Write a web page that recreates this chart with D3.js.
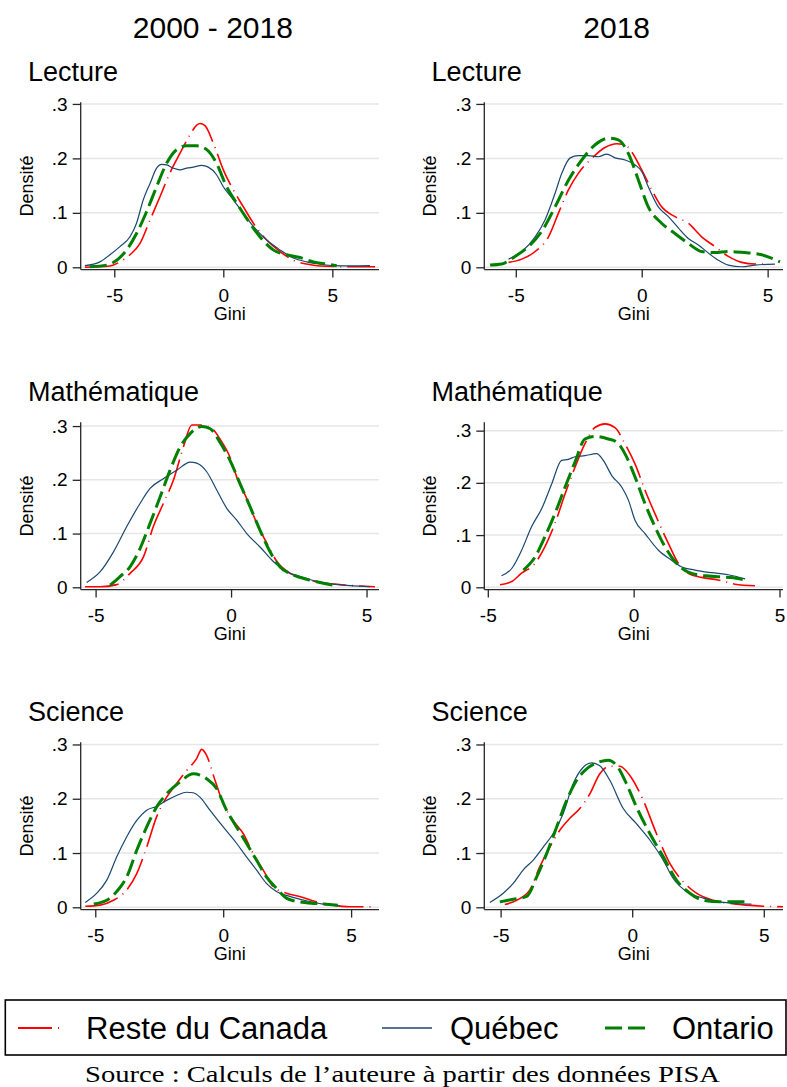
<!DOCTYPE html>
<html><head><meta charset="utf-8">
<script src="https://cdn.jsdelivr.net/npm/d3@7"></script>
<style>body{margin:0;background:#fff}svg{display:block}</style>
</head><body>
<svg id="c" width="787" height="1087"></svg>
<script>
// ---------- labels ----------
const columnHeaders = ["2000 - 2018", "2018"];
const subjectTitles = ["Lecture", "Mathématique", "Science"];
const seriesNames = ["Reste du Canada", "Québec", "Ontario"];
const yTicks = [0, 0.1, 0.2, 0.3];
const yTickLabels = ["0", ".1", ".2", ".3"];
const xTicks = [-5, 0, 5];
const xTickLabels = ["-5", "0", "5"];
const xTitle = "Gini";
const yTitle = "Densité";
const sourceNote = "Source : Calculs de l’auteure à partir des données PISA";

// axis extents per panel (row-major: Lecture 00-18, Lecture 18, Math 00-18, Math 18, Science 00-18, Science 18)
const xDomains = [[-6.54, 7.14], [-6.25, 5.61], [-5.55, 5.46], [-5.12, 5.12], [-5.57, 6.09], [-5.62, 5.73]];
const yMaxes = [0.303, 0.303, 0.307, 0.316, 0.304, 0.304];

// ---------- density data: [gini, density] ----------
// Lecture 2000-2018
const lecAll_reste = [[-6.35,0],[-5.2,0.0025],[-4.74,0.010],[-4.28,0.023],[-3.82,0.044],[-3.36,0.087],[-2.9,0.130],[-2.45,0.173],[-1.99,0.209],[-1.53,0.243],[-1.22,0.261],[-1.07,0.264],[-0.84,0.260],[-0.46,0.228],[0,0.179],[0.46,0.142],[0.92,0.111],[1.38,0.081],[1.99,0.050],[2.6,0.029],[3.21,0.013],[3.82,0.006],[4.43,0.0025],[5.81,0.001],[6.96,0.001]];
const lecAll_quebec = [[-6.35,0.003],[-5.66,0.010],[-5.2,0.023],[-4.74,0.038],[-4.28,0.056],[-3.98,0.081],[-3.67,0.124],[-3.36,0.154],[-3.06,0.182],[-2.83,0.189],[-2.6,0.188],[-2.29,0.182],[-1.99,0.179],[-1.68,0.182],[-1.38,0.184],[-0.99,0.187],[-0.69,0.184],[-0.31,0.170],[0,0.148],[0.46,0.124],[0.92,0.099],[1.38,0.075],[1.99,0.050],[2.6,0.032],[3.21,0.017],[3.82,0.010],[4.43,0.006],[5.05,0.003],[5.81,0.0025],[6.73,0.003]];
const lecAll_ontario = [[-6.12,0.001],[-5.35,0.004],[-4.89,0.013],[-4.43,0.032],[-3.98,0.062],[-3.52,0.102],[-3.06,0.148],[-2.6,0.191],[-2.14,0.216],[-1.68,0.223],[-1.22,0.223],[-0.76,0.216],[-0.31,0.191],[0.15,0.148],[0.61,0.118],[1.07,0.090],[1.68,0.056],[2.29,0.032],[2.91,0.023],[3.52,0.018],[4.13,0.010],[4.74,0.006],[5.2,0.003]];
// Lecture 2018
const lec18_reste = [[-5.29,0.009],[-4.76,0.015],[-4.23,0.029],[-3.7,0.056],[-3.31,0.099],[-2.91,0.142],[-2.51,0.173],[-1.98,0.200],[-1.46,0.220],[-0.99,0.227],[-0.66,0.225],[-0.40,0.212],[0,0.179],[0.40,0.142],[0.79,0.111],[1.32,0.093],[1.85,0.081],[2.38,0.056],[2.91,0.038],[3.44,0.020],[3.97,0.009],[4.5,0.006],[5.03,0.006]];
const lec18_quebec = [[-5.29,0.015],[-4.76,0.029],[-4.23,0.056],[-3.84,0.087],[-3.44,0.136],[-3.17,0.173],[-2.84,0.201],[-2.51,0.205],[-2.12,0.205],[-1.72,0.203],[-1.39,0.208],[-1.06,0.201],[-0.66,0.197],[-0.26,0.188],[0,0.176],[0.26,0.148],[0.66,0.111],[1.06,0.093],[1.46,0.072],[1.85,0.053],[2.25,0.041],[2.65,0.026],[3.04,0.013],[3.44,0.004],[3.97,0.001],[4.5,0.004],[5.29,0.006]];
const lec18_ontario = [[-6.02,0.004],[-5.56,0.006],[-5.03,0.020],[-4.5,0.038],[-3.97,0.066],[-3.44,0.111],[-2.91,0.160],[-2.38,0.197],[-1.85,0.225],[-1.32,0.237],[-0.93,0.234],[-0.53,0.209],[-0.13,0.160],[0.26,0.111],[0.79,0.081],[1.32,0.062],[1.85,0.044],[2.38,0.029],[2.91,0.027],[3.44,0.029],[4.1,0.027],[4.76,0.023],[5.49,0.010]];
// Mathématique 2000-2018
const matAll_reste = [[-5.39,0.001],[-4.83,0.001],[-4.22,0.005],[-3.73,0.026],[-3.23,0.057],[-2.87,0.113],[-2.50,0.156],[-2.13,0.199],[-1.76,0.261],[-1.45,0.302],[-1.14,0.302],[-0.77,0.298],[-0.41,0.276],[-0.04,0.242],[0.21,0.205],[0.58,0.165],[0.95,0.119],[1.32,0.082],[1.69,0.048],[2.18,0.026],[2.67,0.017],[3.28,0.009],[3.78,0.006],[4.51,0.003],[5.31,0.001]];
const matAll_quebec = [[-5.33,0.009],[-4.83,0.029],[-4.34,0.066],[-3.85,0.113],[-3.36,0.156],[-2.99,0.184],[-2.50,0.202],[-2.0,0.218],[-1.51,0.233],[-1.27,0.231],[-0.90,0.215],[-0.53,0.181],[-0.16,0.147],[0.21,0.125],[0.58,0.100],[1.07,0.075],[1.56,0.048],[2.05,0.029],[2.55,0.020],[3.16,0.011],[3.78,0.006],[4.39,0.003],[5.13,0.001]];
const matAll_ontario = [[-4.46,0.004],[-4.1,0.020],[-3.73,0.038],[-3.36,0.072],[-2.99,0.119],[-2.62,0.168],[-2.25,0.218],[-1.88,0.261],[-1.51,0.286],[-1.08,0.299],[-0.77,0.295],[-0.41,0.270],[-0.04,0.236],[0.33,0.193],[0.70,0.150],[1.07,0.106],[1.44,0.066],[1.81,0.038],[2.30,0.023],[2.79,0.015],[3.28,0.009],[3.90,0.003]];
// Mathématique 2018
const mat18_reste = [[-4.58,0.005],[-4.18,0.011],[-3.84,0.027],[-3.38,0.046],[-3.04,0.078],[-2.70,0.122],[-2.35,0.179],[-2.01,0.230],[-1.67,0.275],[-1.33,0.306],[-0.98,0.313],[-0.64,0.306],[-0.30,0.275],[0.05,0.236],[0.39,0.186],[0.73,0.141],[1.19,0.084],[1.53,0.046],[1.87,0.027],[2.33,0.019],[2.90,0.014],[3.47,0.006],[4.16,0.003]];
const mat18_quebec = [[-4.53,0.022],[-4.18,0.036],[-3.84,0.071],[-3.50,0.116],[-3.15,0.151],[-2.81,0.198],[-2.47,0.243],[-2.24,0.245],[-2.01,0.250],[-1.67,0.252],[-1.27,0.256],[-1.04,0.243],[-0.75,0.214],[-0.41,0.192],[-0.18,0.167],[0.05,0.128],[0.39,0.103],[0.85,0.071],[1.30,0.052],[1.65,0.039],[2.10,0.033],[2.67,0.028],[3.25,0.024],[3.82,0.016]];
const mat18_ontario = [[-3.78,0.033],[-3.38,0.058],[-3.04,0.097],[-2.70,0.141],[-2.35,0.192],[-2.01,0.240],[-1.67,0.284],[-1.33,0.289],[-0.87,0.284],[-0.58,0.278],[-0.30,0.256],[0.05,0.211],[0.39,0.160],[0.73,0.116],[1.07,0.078],[1.42,0.049],[1.87,0.029],[2.45,0.022],[3.02,0.020],[3.59,0.017],[3.93,0.011]];
// Science 2000-2018
const sciAll_reste = [[-5.39,0.002],[-4.81,0.004],[-4.29,0.013],[-3.77,0.032],[-3.38,0.062],[-2.99,0.111],[-2.60,0.167],[-2.21,0.203],[-1.82,0.228],[-1.43,0.252],[-1.04,0.274],[-0.84,0.291],[-0.65,0.280],[-0.32,0.234],[0,0.191],[0.39,0.160],[0.78,0.136],[1.17,0.099],[1.56,0.069],[1.95,0.038],[2.47,0.026],[2.99,0.020],[3.64,0.010],[4.29,0.004],[4.94,0.001],[5.91,0.001]];
const sciAll_quebec = [[-5.39,0.009],[-4.94,0.026],[-4.55,0.050],[-4.16,0.093],[-3.77,0.130],[-3.38,0.160],[-2.99,0.179],[-2.60,0.186],[-2.21,0.197],[-1.82,0.206],[-1.43,0.212],[-1.17,0.211],[-0.91,0.203],[-0.52,0.179],[0,0.148],[0.52,0.118],[0.91,0.093],[1.30,0.069],[1.69,0.044],[2.08,0.029],[2.60,0.020],[3.25,0.012],[3.90,0.006],[4.55,0.003]];
const sciAll_ontario = [[-5.06,0.006],[-4.55,0.013],[-4.16,0.029],[-3.77,0.056],[-3.38,0.105],[-2.99,0.148],[-2.60,0.185],[-2.21,0.209],[-1.69,0.231],[-1.17,0.246],[-0.65,0.237],[-0.26,0.219],[0.13,0.179],[0.52,0.148],[0.91,0.118],[1.30,0.087],[1.69,0.056],[2.08,0.035],[2.47,0.017],[2.99,0.010],[3.64,0.007],[4.48,0.004]];
// Science 2018
const sci18_reste = [[-4.84,0.005],[-4.39,0.013],[-3.89,0.032],[-3.51,0.075],[-3.13,0.111],[-2.75,0.142],[-2.37,0.164],[-1.99,0.182],[-1.61,0.209],[-1.23,0.246],[-0.85,0.260],[-0.47,0.260],[-0.09,0.243],[0.42,0.197],[0.92,0.136],[1.43,0.081],[1.94,0.047],[2.44,0.026],[3.08,0.013],[3.71,0.007],[4.34,0.004],[4.97,0.002],[5.73,0.001]];
const sci18_quebec = [[-5.41,0.009],[-4.90,0.026],[-4.52,0.044],[-4.14,0.069],[-3.76,0.087],[-3.38,0.111],[-3.0,0.136],[-2.62,0.173],[-2.24,0.228],[-1.86,0.258],[-1.54,0.266],[-1.23,0.261],[-0.85,0.234],[-0.34,0.182],[0.16,0.154],[0.67,0.124],[1.18,0.087],[1.56,0.053],[2.06,0.029],[2.70,0.017],[3.33,0.010],[3.96,0.007],[4.53,0.006]];
const sci18_ontario = [[-5.03,0.010],[-4.52,0.015],[-4.01,0.020],[-3.63,0.056],[-3.25,0.099],[-2.87,0.148],[-2.49,0.197],[-2.11,0.234],[-1.73,0.255],[-1.35,0.266],[-0.91,0.271],[-0.59,0.261],[-0.22,0.228],[0.16,0.185],[0.67,0.136],[1.18,0.093],[1.68,0.050],[2.19,0.026],[2.70,0.013],[3.33,0.010],[3.96,0.010],[4.47,0.010]];

const panelSeries = [
  [lecAll_reste, lecAll_quebec, lecAll_ontario],
  [lec18_reste, lec18_quebec, lec18_ontario],
  [matAll_reste, matAll_quebec, matAll_ontario],
  [mat18_reste, mat18_quebec, mat18_ontario],
  [sciAll_reste, sciAll_quebec, sciAll_ontario],
  [sci18_reste, sci18_quebec, sci18_ontario]
];

// ---------- styles ----------
const seriesStyles = [
  {color: "#ff0000", width: 1.6, dash: "34,6,1,6"},
  {color: "#1a476f", width: 1.2, dash: null},
  {color: "#008000", width: 3, dash: "17,6"}
];
const SANS = "'Liberation Sans', Arial, Helvetica, sans-serif";

// ---------- layout ----------
const colLeft = [80.7, 484.3], colRight = [379, 783];
const rowZero = [267.3, 587.3, 907.3];
const plotH = 165;
const axisGap = 2.3;

const svg = d3.select("#c");
svg.append("rect").attr("width", 787).attr("height", 1087).attr("fill", "#fff");

// column headers
columnHeaders.forEach((h, c) => {
  svg.append("text").attr("x", (colLeft[c] + colRight[c]) / 2 - 17).attr("y", 38)
    .attr("text-anchor", "middle").attr("font-family", SANS).attr("font-size", 30)
    .attr("fill", "#000").text(h);
});

const line = d3.line().curve(d3.curveMonotoneX);

panelSeries.forEach((series, p) => {
  const row = Math.floor(p / 2), col = p % 2;
  const L = colLeft[col], R = colRight[col], Y0 = rowZero[row];
  const x = d3.scaleLinear().domain(xDomains[p]).range([L, R]);
  const y = d3.scaleLinear().domain([0, yMaxes[p]]).range([Y0, Y0 - plotH]);
  const g = svg.append("g");
  const axisY = Y0 + axisGap;

  // gridlines
  g.selectAll(".grid").data(yTicks).join("line")
    .attr("x1", L).attr("x2", R).attr("y1", d => y(d)).attr("y2", d => y(d))
    .attr("stroke", "#e6e6e6").attr("stroke-width", 1.5);

  // curves
  series.forEach((data, s) => {
    const st = seriesStyles[s];
    line.x(d => x(d[0])).y(d => y(d[1]));
    g.append("path").attr("d", line(data)).attr("fill", "none")
      .attr("stroke", st.color).attr("stroke-width", st.width)
      .attr("stroke-dasharray", st.dash).attr("stroke-linejoin", "round");
  });

  // y axis
  const yAxis = d3.axisLeft(y).tickValues(yTicks).tickFormat((d, i) => yTickLabels[i]).tickSize(8).tickPadding(5);
  const ya = g.append("g").attr("transform", `translate(${L},0)`).call(yAxis);
  ya.select(".domain").attr("d", `M0,${y(yMaxes[p])}V${axisY}`);
  // x axis
  const xAxis = d3.axisBottom(x).tickValues(xTicks).tickFormat((d, i) => xTickLabels[i]).tickSize(8).tickPadding(11);
  const xa = g.append("g").attr("transform", `translate(0,${axisY})`).call(xAxis);
  xa.select(".domain").attr("d", `M${L},0H${R}`);
  [ya, xa].forEach(a => {
    a.selectAll(".domain").attr("stroke", "#262626").attr("stroke-width", 1.3);
    a.selectAll(".tick line").attr("stroke", "#262626").attr("stroke-width", 1.3);
    a.selectAll("text").attr("font-family", SANS).attr("font-size", 19).attr("fill", "#000");
  });

  // axis titles
  g.append("text").attr("x", (L + R) / 2).attr("y", axisY + 50.5).attr("text-anchor", "middle")
    .attr("font-family", SANS).attr("font-size", 18).attr("fill", "#000").text(xTitle);
  g.append("text").attr("transform", `translate(${L - 48},${(y(yMaxes[p]) + axisY) / 2}) rotate(-90)`)
    .attr("text-anchor", "middle").attr("font-family", SANS).attr("font-size", 18).attr("fill", "#000").text(yTitle);
  // panel title
  g.append("text").attr("x", L - 52.7).attr("y", y(yMaxes[p]) - 21)
    .attr("font-family", SANS).attr("font-size", 27).attr("fill", "#000").text(subjectTitles[row]);
});

// legend
const lg = svg.append("g");
lg.append("rect").attr("x", 5.3).attr("y", 1000).attr("width", 780.7).attr("height", 55)
  .attr("fill", "none").attr("stroke", "#000").attr("stroke-width", 1.6);
const legendItems = [
  {x1: 18, x2: 61, tx: 86},
  {x1: 382, x2: 432, tx: 450},
  {x1: 605, x2: 647, tx: 672}
];
seriesNames.forEach((n, i) => {
  const st = seriesStyles[i], it = legendItems[i];
  lg.append("line").attr("x1", it.x1).attr("x2", it.x2).attr("y1", 1028).attr("y2", 1028)
    .attr("stroke", st.color).attr("stroke-width", st.width === 3 ? 3 : st.width + 0.4)
    .attr("stroke-dasharray", st.dash);
  lg.append("text").attr("x", it.tx).attr("y", 1038.5).attr("font-family", SANS)
    .attr("font-size", 31).attr("fill", "#000").text(n);
});

// source note
svg.append("text").attr("x", 402.5).attr("y", 1082).attr("text-anchor", "middle")
  .attr("font-family", "'Liberation Serif', 'DejaVu Serif', serif").attr("font-size", 23)
  .attr("textLength", 635).attr("lengthAdjust", "spacingAndGlyphs").attr("fill", "#000").text(sourceNote);
</script>
</body></html>
